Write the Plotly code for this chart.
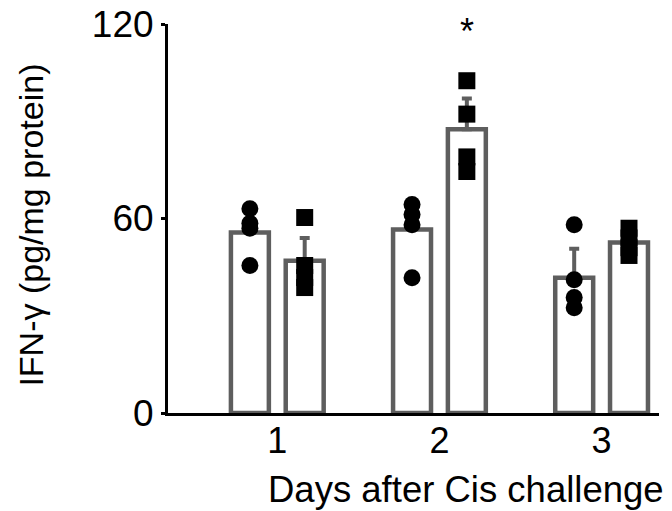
import plotly.graph_objects as go

days = [1, 2, 3]
tick_labels = ["1", "2", "3"]

# group A (circles) and group B (squares)
mean_a = [55.7, 56.6, 41.7]
err_a = [4.0, 5.0, 9.0]
mean_b = [47.0, 87.5, 52.6]
err_b = [7.0, 9.5, 2.0]

points_a = [
    [63.0, 58.5, 57.0, 45.5],
    [64.3, 61.2, 58.1, 41.7],
    [58.1, 41.1, 35.6, 32.5],
]
points_b = [
    [60.3, 45.5, 41.8, 38.7],
    [102.5, 92.2, 79.0, 74.5],
    [57.0, 54.0, 51.0, 48.6],
]

OFF = 0.169
BW = 0.234
GRAY = "#5e5e5e"
FONT = "Liberation Sans, Arial, Helvetica, sans-serif"

fig = go.Figure()

for means, errs, sign in [(mean_a, err_a, -1), (mean_b, err_b, 1)]:
    fig.add_trace(go.Bar(
        x=[d + sign * OFF for d in days], y=means, width=BW,
        marker=dict(color="white", line=dict(color=GRAY, width=4.5)),
        error_y=dict(type="data", array=errs, arrayminus=[0] * len(errs),
                     symmetric=False, color=GRAY, thickness=4, width=5),
        showlegend=False, hoverinfo="skip",
    ))

for pts, sign, sym, sz in [(points_a, -1, "circle", 17), (points_b, 1, "square", 17)]:
    xs, ys = [], []
    for d, vals in zip(days, pts):
        for v in vals:
            xs.append(d + sign * OFF)
            ys.append(v)
    fig.add_trace(go.Scatter(
        x=xs, y=ys, mode="markers",
        marker=dict(symbol=sym, size=sz, color="black", line=dict(width=0)),
        showlegend=False, hoverinfo="skip", cliponaxis=False,
    ))

fig.add_annotation(x=2 + OFF, y=120, text="*", showarrow=False,
                   font=dict(family=FONT, size=36, color="black"),
                   xanchor="center", yanchor="middle", yshift=-7)

fig.add_annotation(xref="paper", yref="paper", x=0.606, y=-0.197,
                   text="Days after Cis challenge", showarrow=False,
                   font=dict(family=FONT, size=36.5, color="black"),
                   xanchor="center", yanchor="middle")

fig.add_annotation(xref="paper", yref="paper", x=-0.278, y=0.483,
                   text="IFN-γ (pg/mg protein)", showarrow=False, textangle=-90,
                   font=dict(family=FONT, size=34, color="black"),
                   xanchor="center", yanchor="middle")

fig.update_layout(
    width=672, height=511,
    margin=dict(l=168, r=13, t=24, b=98),
    plot_bgcolor="white", paper_bgcolor="white",
    barmode="overlay",
    font=dict(family=FONT, color="black"),
    xaxis=dict(range=[0.326, 3.354], tickvals=days, ticktext=tick_labels,
               automargin=False, ticklabelstandoff=-6,
               showline=True, linecolor="black", linewidth=3,
               ticks="", showgrid=False, zeroline=False,
               tickfont=dict(size=36, family=FONT, color="black")),
    yaxis=dict(range=[0, 120], tickvals=[0, 60, 120], automargin=False,
               showline=True, linecolor="black", linewidth=3,
               ticks="outside", ticklen=4, tickwidth=3, tickcolor="black",
               showgrid=False, zeroline=False,
               tickfont=dict(size=37, family=FONT, color="black")),
)

fig.write_html("out.html", config={"displayModeBar": False},
               post_script="document.body.style.margin='0';document.body.style.padding='0';document.body.style.overflow='hidden';")
